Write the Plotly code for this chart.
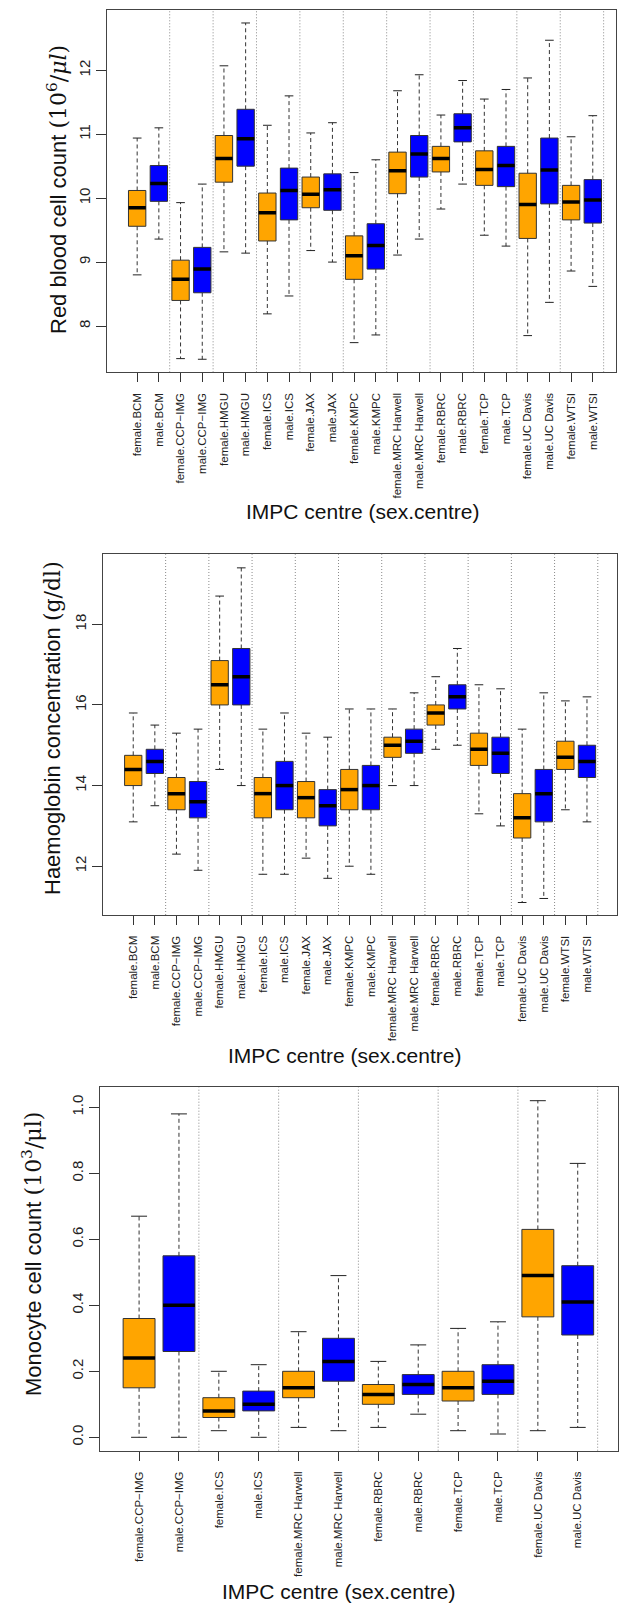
import plotly.graph_objects as go

W, H = 620, 1606

# ---------------- data ----------------
centres_a = ["BCM", "CCP\u2212IMG", "HMGU", "ICS", "JAX", "KMPC", "MRC Harwell",
             "RBRC", "TCP", "UC Davis", "WTSI"]
centres_b = ["CCP\u2212IMG", "ICS", "MRC Harwell", "RBRC", "TCP", "UC Davis"]
sexes = ["female", "male"]

labels_a = [f"{s}.{c}" for c in centres_a for s in sexes]
labels_b = [f"{s}.{c}" for c in centres_b for s in sexes]

# Panel 1: red blood cell count
rbc_lo  = [8.80, 9.36, 7.49, 7.48, 9.16, 9.14, 8.19, 8.47, 9.18, 9.00, 7.74, 7.86, 9.11, 9.36, 9.83, 10.22, 9.42, 9.25, 7.85, 8.37, 8.86, 8.62]
rbc_q1  = [9.56, 9.95, 8.40, 8.52, 10.25, 10.50, 9.33, 9.66, 9.85, 9.81, 8.73, 8.89, 10.07, 10.33, 10.41, 10.88, 10.20, 10.18, 9.37, 9.91, 9.66, 9.61]
rbc_med = [9.85, 10.23, 8.73, 8.89, 10.62, 10.93, 9.77, 10.12, 10.06, 10.13, 9.10, 9.26, 10.43, 10.69, 10.62, 11.10, 10.45, 10.51, 9.90, 10.44, 9.94, 9.97]
rbc_q3  = [10.12, 10.51, 9.03, 9.23, 10.98, 11.39, 10.08, 10.47, 10.33, 10.38, 9.41, 9.60, 10.72, 10.98, 10.81, 11.32, 10.74, 10.81, 10.39, 10.94, 10.20, 10.29]
rbc_hi  = [10.94, 11.10, 9.93, 10.22, 12.07, 12.74, 11.14, 11.60, 11.02, 11.18, 10.40, 10.60, 11.68, 11.93, 11.30, 11.84, 11.55, 11.70, 11.88, 12.47, 10.96, 11.29]

# Panel 2: haemoglobin concentration
hgb_lo  = [13.1, 13.5, 12.3, 11.9, 14.4, 14.0, 11.8, 11.8, 12.2, 11.7, 12.0, 11.8, 14.0, 14.0, 14.9, 15.0, 13.3, 13.0, 11.1, 11.2, 13.4, 13.1]
hgb_q1  = [14.0, 14.3, 13.4, 13.2, 16.0, 16.0, 13.2, 13.4, 13.2, 13.0, 13.4, 13.4, 14.7, 14.8, 15.5, 15.9, 14.5, 14.3, 12.7, 13.1, 14.4, 14.2]
hgb_med = [14.4, 14.6, 13.8, 13.6, 16.5, 16.7, 13.8, 14.0, 13.7, 13.5, 13.9, 14.0, 15.0, 15.1, 15.8, 16.2, 14.9, 14.8, 13.2, 13.8, 14.7, 14.6]
hgb_q3  = [14.75, 14.9, 14.2, 14.1, 17.1, 17.4, 14.2, 14.6, 14.1, 13.9, 14.4, 14.5, 15.2, 15.4, 16.0, 16.5, 15.3, 15.2, 13.8, 14.4, 15.1, 15.0]
hgb_hi  = [15.8, 15.5, 15.3, 15.4, 18.7, 19.4, 15.4, 15.8, 15.3, 15.2, 15.9, 15.9, 15.9, 16.3, 16.7, 17.4, 16.5, 16.4, 15.4, 16.3, 16.1, 16.2]

# Panel 3: monocyte cell count
mon_lo  = [0.0, 0.0, 0.02, 0.0, 0.03, 0.02, 0.03, 0.07, 0.02, 0.01, 0.02, 0.03]
mon_q1  = [0.15, 0.26, 0.06, 0.08, 0.12, 0.17, 0.10, 0.13, 0.11, 0.13, 0.365, 0.31]
mon_med = [0.24, 0.40, 0.08, 0.10, 0.15, 0.23, 0.13, 0.16, 0.15, 0.17, 0.49, 0.41]
mon_q3  = [0.36, 0.55, 0.12, 0.14, 0.20, 0.30, 0.16, 0.19, 0.20, 0.22, 0.63, 0.52]
mon_hi  = [0.67, 0.98, 0.20, 0.22, 0.32, 0.49, 0.23, 0.28, 0.33, 0.35, 1.02, 0.83]

rbc_ticks = [8, 9, 10, 11, 12]
hgb_ticks = [12, 14, 16, 18]
mon_ticks = [0.0, 0.2, 0.4, 0.6, 0.8, 1.0]

SEX_COLORS = {"female": "#FFA500", "male": "#0000FF"}

# ---------------- layout geometry (pixels) ----------------
panels = [
    dict(labels=labels_a, lo=rbc_lo, q1=rbc_q1, med=rbc_med, q3=rbc_q3, hi=rbc_hi,
         ticks=rbc_ticks, tickfmt="d",
         px=(107, 616), py=(10, 372.3), xr=(-0.39, 23.07), yr=(7.276, 12.943),
         ytitle='Red blood cell count <span style="font-family:DejaVu Serif">(10<sup>6</sup>/<i>\u03bcl</i>)</span>',
         ytx=57, yty=190, xtx=362, xty=512),
    dict(labels=labels_a, lo=hgb_lo, q1=hgb_q1, med=hgb_med, q3=hgb_q3, hi=hgb_hi,
         ticks=hgb_ticks, tickfmt="d",
         px=(103.2, 616.8), py=(554.3, 915), xr=(-0.39, 23.38), yr=(10.79, 19.736),
         ytitle='Haemoglobin concentration <span style="font-family:DejaVu Serif">(g/dl)</span>',
         ytx=52, yty=728, xtx=345, xty=1055),
    dict(labels=labels_b, lo=mon_lo, q1=mon_q1, med=mon_med, q3=mon_q3, hi=mon_hi,
         ticks=mon_ticks, tickfmt=".1f",
         px=(100, 617.6), py=(1087.3, 1450.7), xr=(0.02, 13.0), yr=(-0.0406, 1.0606),
         ytitle='Monocyte cell count <span style="font-family:DejaVu Serif">(10<sup>3</sup>/\u03bcl)</span>',
         ytx=32, yty=1254, xtx=338, xty=1591),
]

FONT = "Liberation Sans, Arial, Helvetica, sans-serif"
BOXW = 0.8
CAPW = 0.4

fig = go.Figure()
layout = dict(
    width=W, height=H, margin=dict(l=0, r=0, t=0, b=0),
    paper_bgcolor="white", plot_bgcolor="white",
    showlegend=False, barmode="overlay",
    font=dict(family=FONT, color="#222"),
    shapes=[], annotations=[],
)

for i, p in enumerate(panels):
    k = "" if i == 0 else str(i + 1)
    xa, ya = "x" + k, "y" + k
    n = len(p["labels"])
    xs = list(range(1, n + 1))
    colors = [SEX_COLORS[lab.split(".")[0]] for lab in p["labels"]]

    # separators between centres
    for sx in range(2, n + 1, 2):
        layout["shapes"].append(dict(
            type="line", xref=xa, yref=ya + " domain", x0=sx + 0.5, x1=sx + 0.5,
            y0=0, y1=1, layer="below", line=dict(color="#8a8a8a", width=1, dash="1px,2px")))

    # whiskers (dashed)
    wx, wy = [], []
    for x, lo, q1, q3, hi in zip(xs, p["lo"], p["q1"], p["q3"], p["hi"]):
        wx += [x, x, None, x, x, None]
        wy += [q3, hi, None, q1, lo, None]
    fig.add_trace(go.Scatter(x=wx, y=wy, mode="lines", xaxis=xa, yaxis=ya,
                             line=dict(color="#333", width=1, dash="4px,3px"),
                             hoverinfo="skip"))
    # staples
    cx, cy = [], []
    for x, lo, hi in zip(xs, p["lo"], p["hi"]):
        cx += [x - CAPW / 2, x + CAPW / 2, None, x - CAPW / 2, x + CAPW / 2, None]
        cy += [hi, hi, None, lo, lo, None]
    fig.add_trace(go.Scatter(x=cx, y=cy, mode="lines", xaxis=xa, yaxis=ya,
                             line=dict(color="#222", width=1), hoverinfo="skip"))
    # boxes
    fig.add_trace(go.Bar(x=xs, y=[b - a for a, b in zip(p["q1"], p["q3"])],
                         base=p["q1"], width=BOXW, xaxis=xa, yaxis=ya,
                         marker=dict(color=colors, line=dict(color="#333", width=1))))
    # medians
    mx, my = [], []
    for x, m in zip(xs, p["med"]):
        mx += [x - BOXW / 2, x + BOXW / 2, None]
        my += [m, m, None]
    fig.add_trace(go.Scatter(x=mx, y=my, mode="lines", xaxis=xa, yaxis=ya,
                             line=dict(color="black", width=3.5), hoverinfo="skip"))

    layout["xaxis" + k] = dict(
        domain=[p["px"][0] / W, p["px"][1] / W], anchor=ya, range=list(p["xr"]),
        tickmode="array", tickvals=xs, ticktext=p["labels"], tickangle=-90,
        ticks="outside", ticklen=9, tickcolor="#333", tickwidth=1,
        tickfont=dict(size=11.5, color="#222"), ticklabelstandoff=6,
        showline=True, mirror=True, linecolor="#444", linewidth=1.3,
        showgrid=False, zeroline=False, fixedrange=True)
    layout["yaxis" + k] = dict(
        domain=[1 - p["py"][1] / H, 1 - p["py"][0] / H], anchor=xa, range=list(p["yr"]),
        tickmode="array", tickvals=p["ticks"], tickformat=p["tickfmt"], tickangle=-90,
        ticks="outside", ticklen=10, tickcolor="#333", tickwidth=1,
        tickfont=dict(size=15, color="#222"),
        showline=True, mirror=True, linecolor="#444", linewidth=1.3,
        showgrid=False, zeroline=False, fixedrange=True)

    layout["annotations"].append(dict(
        text=p["ytitle"], xref="paper", yref="paper", x=p["ytx"] / W, y=1 - p["yty"] / H,
        xanchor="center", yanchor="middle", textangle=-90, showarrow=False,
        font=dict(size=22, color="#111", family=FONT)))
    layout["annotations"].append(dict(
        text="IMPC centre (sex.centre)", xref="paper", yref="paper",
        x=p["xtx"] / W, y=1 - p["xty"] / H, xanchor="center", yanchor="middle",
        showarrow=False, font=dict(size=21, color="#111", family=FONT)))

fig.update_layout(**layout)
fig.write_html("out.html", config={"displayModeBar": False},
               post_script="document.body.style.margin='0';")
